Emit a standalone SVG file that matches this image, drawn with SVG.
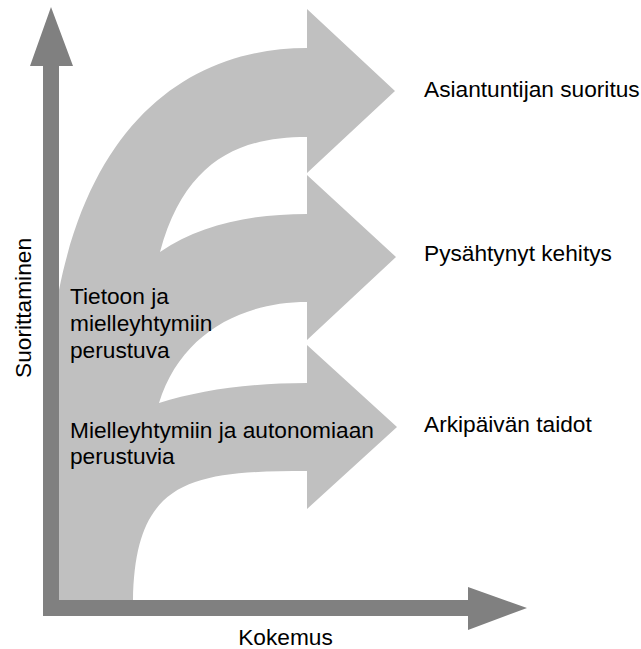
<svg xmlns="http://www.w3.org/2000/svg" width="641" height="649" viewBox="0 0 641 649">
  <style>
    .lbl { font-family: "Liberation Sans", Arial, sans-serif; font-size: 22.7px; fill: #000000; }
    .flow { fill: #c0c0c0; stroke: none; }
    .axis { fill: #808080; stroke: none; }
  </style>
  <rect width="641" height="649" fill="#ffffff"/>

  <!-- Three curved development arrows sharing one body -->
  <g id="flows">
    <path class="flow" d="M59,600 L59,290 C95,110 200,48 307,48
      L307,9 L395,91 L307,173 L307,137
      C240,137 185,160 160,252 C200,225 250,214 307,214
      L307,175 L396,257 L307,340 L307,302
      C240,302 180,335 159,403 C200,390 250,383 307,383
      L307,345 L397,427 L307,509 L307,471
      C190,471 135,480 133,600 Z"/>
  </g>

  <!-- Axes -->
  <g id="connectors">
    <path class="axis" d="M43,616 L43,66 L30,66 L51,7 L73,66 L59,66 L59,600 L468,600 L468,587 L527,608 L468,630 L468,616 Z"/>
  </g>

  <g id="axis-y-label">
    <text class="lbl" x="31" y="308" text-anchor="middle" transform="rotate(-90 31 308)">Suorittaminen</text>
  </g>
  <g id="axis-x-label">
    <text class="lbl" x="285.5" y="645" text-anchor="middle">Kokemus</text>
  </g>

  <g id="flow-upper-label">
    <text class="lbl" x="70" y="304">Tietoon ja</text>
    <text class="lbl" x="70" y="331">mielleyhtymiin</text>
    <text class="lbl" x="70" y="358">perustuva</text>
  </g>
  <g id="flow-lower-label">
    <text class="lbl" x="70" y="438">Mielleyhtymiin ja autonomiaan</text>
    <text class="lbl" x="70" y="464">perustuvia</text>
  </g>

  <g id="outcome-expert">
    <text class="lbl" x="424" y="97">Asiantuntijan suoritus</text>
  </g>
  <g id="outcome-arrested">
    <text class="lbl" x="424" y="261">Pysähtynyt kehitys</text>
  </g>
  <g id="outcome-everyday">
    <text class="lbl" x="424" y="432">Arkipäivän taidot</text>
  </g>
</svg>
